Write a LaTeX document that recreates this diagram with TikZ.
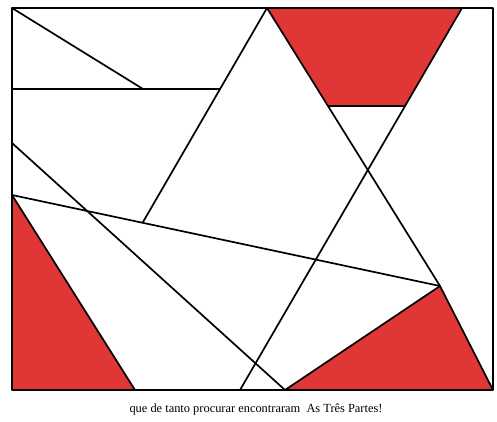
\documentclass[tikz,border=0pt]{standalone}
\usepackage{fontspec}
\setmainfont{Liberation Serif}
\usepackage{tikz}
\definecolor{pecared}{RGB}{224,54,54}

\begin{document}
\begin{tikzpicture}[x=1pt,y=-1pt,line join=round,
  corte/.style={line width=1.7pt}]
\useasboundingbox (0,0) rectangle (497,421);
% frame corners
\coordinate (ne) at (12,8);
\coordinate (nd) at (493,8);
\coordinate (sd) at (493,390);
\coordinate (se) at (12,390);
% points on the sides
\coordinate (topo) at (267,8);
\coordinate (topd) at (462,8);
\coordinate (e1) at (12,89);
\coordinate (e2) at (12,143);
\coordinate (e3) at (12,195);
\coordinate (b1) at (135,390);
\coordinate (b2) at (240,390);
\coordinate (b3) at (285,390);
\coordinate (r) at (440,286);
\coordinate (h) at (143,222);
\coordinate (t1) at (100,106);
\coordinate (t2) at (480,106);
\coordinate (meio) at (300,89);
% red pieces
\fill[pecared] (topo) -- (topd) -- (intersection of topd--b2 and t1--t2)
  -- (intersection of topo--r and t1--t2) -- cycle;
\draw[corte] (intersection of topd--b2 and t1--t2)
  -- (intersection of topo--r and t1--t2);
\fill[pecared] (e3) -- (se) -- (b1) -- cycle;
\fill[pecared] (b3) -- (r) -- (sd) -- cycle;
% cuts
\draw[corte] (ne) -- (intersection of ne--(143,89) and e1--meio);
\draw[corte] (e1) -- (intersection of e1--meio and topo--h);
\draw[corte] (topo) -- (intersection of topo--h and e3--r);
\draw[corte] (e3) -- (r);
\draw[corte] (e2) -- (b3);
\draw[corte] (e3) -- (b1);
\draw[corte] (topo) -- (r) -- (sd);
\draw[corte] (topd) -- (b2);
\draw[corte] (b3) -- (r);
% frame
\draw[corte] (ne) rectangle (sd);
\node (legenda) at (256,409) {\fontsize{12.4}{14}\selectfont que de tanto procurar encontraram\ \ As Três Partes!};
\end{tikzpicture}
\end{document}
